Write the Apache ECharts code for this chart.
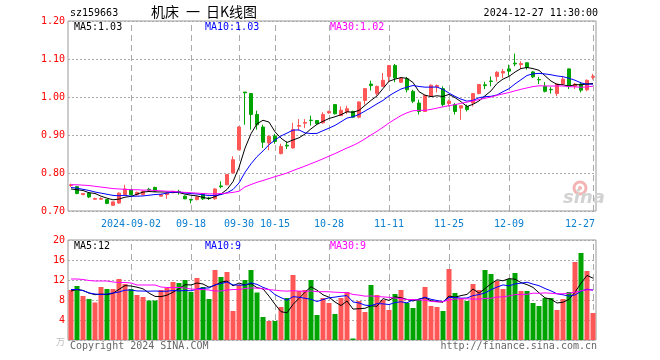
<!DOCTYPE html>
<html><head><meta charset="utf-8">
<script src="https://cdn.jsdelivr.net/npm/echarts@6/dist/echarts.min.js"></script>
<style>html,body{margin:0;padding:0;background:#fff}#c{width:660px;height:360px}</style>
</head><body><div id="c"></div>
<script>
// ---- data ----
const dates = [
'2024-08-19','2024-08-20','2024-08-21','2024-08-22','2024-08-23','2024-08-26','2024-08-27','2024-08-28','2024-08-29','2024-08-30',
'2024-09-02','2024-09-03','2024-09-04','2024-09-05','2024-09-06','2024-09-09','2024-09-10','2024-09-11','2024-09-12','2024-09-13',
'2024-09-18','2024-09-19','2024-09-20','2024-09-23','2024-09-24','2024-09-25','2024-09-26','2024-09-27','2024-09-30','2024-10-08',
'2024-10-09','2024-10-10','2024-10-11','2024-10-14','2024-10-15','2024-10-16','2024-10-17','2024-10-18','2024-10-21','2024-10-22',
'2024-10-23','2024-10-24','2024-10-25','2024-10-28','2024-10-29','2024-10-30','2024-10-31','2024-11-01','2024-11-04','2024-11-05',
'2024-11-06','2024-11-07','2024-11-08','2024-11-11','2024-11-12','2024-11-13','2024-11-14','2024-11-15','2024-11-18','2024-11-19',
'2024-11-20','2024-11-21','2024-11-22','2024-11-25','2024-11-26','2024-11-27','2024-11-28','2024-11-29','2024-12-02','2024-12-03',
'2024-12-04','2024-12-05','2024-12-06','2024-12-09','2024-12-10','2024-12-11','2024-12-12','2024-12-13','2024-12-16','2024-12-17',
'2024-12-18','2024-12-19','2024-12-20','2024-12-23','2024-12-24','2024-12-25','2024-12-26','2024-12-27'];
const opens = [
0.767,0.764,0.743,0.747,0.731,0.731,0.730,0.715,0.721,0.743,
0.756,0.743,0.743,0.757,0.762,0.739,0.743,0.748,0.751,0.739,
0.730,0.730,0.745,0.734,0.732,0.766,0.769,0.800,0.861,1.013,
1.009,0.954,0.921,0.879,0.897,0.851,0.873,0.866,0.923,0.931,
0.939,0.938,0.932,0.958,0.980,0.951,0.961,0.962,0.947,0.991,
1.034,1.009,1.028,1.054,1.083,1.039,1.048,1.015,0.984,0.962,
1.002,1.027,1.022,0.983,0.980,0.971,0.975,0.984,1.009,1.032,
1.042,1.054,1.063,1.074,1.089,1.085,1.090,1.066,1.046,1.028,
1.020,1.009,1.034,1.074,1.028,1.034,1.019,1.052];
const closes = [
0.769,0.746,0.746,0.737,0.733,0.733,0.720,0.724,0.747,0.758,
0.743,0.749,0.752,0.755,0.752,0.743,0.747,0.751,0.749,0.732,
0.729,0.737,0.732,0.733,0.758,0.764,0.796,0.835,0.921,1.011,
0.954,0.927,0.881,0.897,0.883,0.870,0.871,0.914,0.925,0.933,
0.938,0.930,0.954,0.962,0.956,0.965,0.969,0.947,0.987,1.022,
1.030,1.028,1.044,1.083,1.050,1.050,1.019,0.989,0.962,1.004,
1.031,1.030,0.980,0.989,0.962,0.977,0.967,1.009,1.033,1.030,
1.041,1.065,1.067,1.068,1.087,1.088,1.078,1.053,1.045,1.015,
1.019,1.034,1.047,1.028,1.034,1.018,1.044,1.054];
const lows = [
0.763,0.744,0.742,0.734,0.730,0.729,0.718,0.713,0.719,0.742,
0.741,0.741,0.741,0.752,0.750,0.738,0.732,0.747,0.743,0.731,
0.720,0.728,0.729,0.729,0.730,0.760,0.768,0.799,0.860,0.927,
0.914,0.914,0.866,0.860,0.877,0.849,0.863,0.864,0.912,0.918,
0.925,0.928,0.930,0.956,0.954,0.950,0.955,0.946,0.944,0.980,
1.017,1.004,1.027,1.039,1.039,1.037,1.012,0.984,0.954,0.961,
1.000,1.012,0.975,0.975,0.954,0.940,0.962,0.975,1.007,1.021,
1.028,1.041,1.050,1.056,1.081,1.074,1.072,1.050,1.034,1.012,
1.009,1.002,1.033,1.021,1.021,1.012,1.015,1.046];
const highs = [
0.772,0.766,0.747,0.749,0.735,0.736,0.731,0.725,0.749,0.769,
0.758,0.751,0.754,0.761,0.764,0.744,0.748,0.753,0.756,0.741,
0.732,0.739,0.747,0.737,0.760,0.778,0.797,0.844,0.923,1.013,
1.010,0.964,0.927,0.898,0.903,0.877,0.883,0.932,0.942,0.942,
0.951,0.939,0.960,0.964,0.981,0.975,0.977,0.964,0.988,1.023,
1.043,1.030,1.063,1.084,1.087,1.052,1.053,1.019,0.993,1.005,
1.033,1.033,1.028,0.993,0.984,0.978,0.980,1.010,1.034,1.040,
1.054,1.068,1.074,1.085,1.114,1.094,1.091,1.068,1.053,1.039,
1.026,1.035,1.054,1.075,1.037,1.039,1.046,1.061];
const volumes = [
10.0,10.8,8.8,8.2,7.5,10.6,10.2,10.2,12.2,11.2,
10.2,9.0,8.6,7.9,7.9,10.0,10.4,11.6,11.4,12.0,
9.6,12.4,10.6,8.2,14.0,12.6,13.6,5.8,11.0,12.0,
14.0,9.5,4.6,3.8,3.8,6.6,8.4,13.0,9.8,10.0,
12.0,5.0,8.4,7.4,5.2,8.4,9.6,0.3,7.8,5.6,
11.0,9.0,8.0,6.0,9.2,10.0,7.4,6.4,8.0,10.6,
6.8,6.6,5.8,14.2,9.4,8.4,7.8,11.2,10.0,14.0,
13.2,11.8,10.2,12.2,13.4,9.8,9.8,7.4,6.8,8.4,
8.4,6.0,8.2,9.6,15.6,17.4,13.8,5.4];
// moving-average values before the window is full
const ma5Lead = [0.758,0.756,0.754,0.748];
const ma10Lead = [0.762,0.760,0.757,0.754,0.750,0.747,0.744,0.741,0.740];
const ma30Lead = [0.769,0.769,0.768,0.767,0.765,0.763,0.761,0.759,0.758,0.757,
0.756,0.756,0.755,0.755,0.754,0.753,0.752,0.752,0.750,0.749,
0.748,0.747,0.746,0.745,0.745,0.746,0.747,0.749,0.752];
const vma5Lead = [9.8,10.1,9.9,9.4];
const vma10Lead = [10.1,10.1,9.9,9.4,9.2,9.1,9.2,9.4,9.6];
const vma30Lead = [12.2,12.2,12.1,11.9,11.8,11.8,11.8,11.6,11.5,11.5,
11.4,11.0,11.0,11.0,11.0,10.6,10.5,10.5,10.5,10.4,
10.2,10.1,10.1,10.0,9.8,9.8,10.0,10.1,10.1];
const tickDates = ['2024-09-02','2024-09-18','2024-09-30','2024-10-15','2024-10-28','2024-11-11','2024-11-25','2024-12-09','2024-12-27'];
const tickLabels = ['2024-09-02','09-18','09-30','10-15','10-28','11-11','11-25','12-09','12-27'];
const priceTicks = [0.70,0.80,0.90,1.00,1.10,1.20];
const volTicks = [0,4,8,12,16,20];
const titleCode = 'sz159663';
const titleParts = ['机床','一','日K线图'];
const titleTime = '2024-12-27 11:30:00';
const priceMaLabels = ['MA5:1.03','MA10:1.03','MA30:1.02'];
const volMaLabels = ['MA5:12','MA10:9','MA30:9'];

// ---- build ----
const UP='#ff5656', DOWN='#00a400';
const MONO='"DejaVu Sans Mono", "Liberation Mono", monospace';
function ma(vals,n,lead){return vals.map((v,i)=>{if(i<n-1)return lead[i];let s=0;for(let k=i-n+1;k<=i;k++)s+=vals[k];return +(s/n).toFixed(4);});}
const candle = dates.map((d,i)=>[opens[i],closes[i],lows[i],highs[i]]);
const volData = volumes.map((v,i)=>({value:v,itemStyle:{color:closes[i]>=opens[i]?UP:DOWN}}));
const tickIdx = tickDates.map(d=>dates.indexOf(d));
const labelOf = {}; tickDates.forEach((d,k)=>labelOf[d]=tickLabels[k]);
const vlines = tickDates.map(d=>({xAxis:d}));
const L=68, W=528;
const chart = echarts.init(document.getElementById('c'),null,{renderer:'canvas',width:660,height:360});
const axisCommon = {type:'category',data:dates,boundaryGap:true,axisLine:{show:false},axisTick:{show:false},splitLine:{show:false}};
const lineCommon = {type:'line',showSymbol:false,symbol:'none',smooth:false,animation:false,lineStyle:{width:1}};
const CJK='"Noto Sans CJK SC"';
chart.setOption({
  animation:false,
  backgroundColor:'#fff',
  grid:[
    {left:L,width:W,top:21,height:190,show:true,borderColor:'#999',borderWidth:1,backgroundColor:'transparent'},
    {left:L,width:W,top:240,height:100,show:true,borderColor:'#999',borderWidth:1,backgroundColor:'transparent'}
  ],
  xAxis:[
    Object.assign({},axisCommon,{gridIndex:0,axisLabel:{show:true,interval:(i)=>tickIdx.includes(i),margin:8,color:'#0b7fd0',fontFamily:MONO,fontSize:10,
      formatter:(v)=>v==='2024-12-27'?'{r|'+labelOf[v]+'}':labelOf[v],rich:{r:{padding:[0,26,0,0],color:'#0b7fd0',fontFamily:MONO,fontSize:10}}}}),
    Object.assign({},axisCommon,{gridIndex:1,axisLabel:{show:false}})
  ],
  yAxis:[
    {type:'value',gridIndex:0,min:priceTicks[0],max:priceTicks[priceTicks.length-1],interval:0.1,
      axisLine:{show:false},axisTick:{show:false},
      axisLabel:{color:'#ff0000',fontFamily:MONO,fontSize:10,margin:3,formatter:(v)=>v.toFixed(2)},
      splitLine:{show:true,lineStyle:{color:'#aaa',type:[2,2],width:1}}},
    {type:'value',gridIndex:1,min:volTicks[0],max:volTicks[volTicks.length-1],interval:4,
      axisLine:{show:false},axisTick:{show:false},
      axisLabel:{color:'#ff0000',fontFamily:MONO,fontSize:10,margin:3,formatter:(v)=>v===0?'':String(v)},
      splitLine:{show:true,lineStyle:{color:'#aaa',type:[2,2],width:1}}}
  ],
  series:[
    {type:'candlestick',xAxisIndex:0,yAxisIndex:0,data:candle,barWidth:4,z:3,
      itemStyle:{color:UP,color0:DOWN,borderColor:UP,borderColor0:DOWN,borderWidth:1},
      markLine:{silent:true,z:1,symbol:['none','none'],label:{show:false},animation:false,
        lineStyle:{color:'#aaa',type:[6,4],width:1},data:vlines}},
    Object.assign({},lineCommon,{xAxisIndex:0,yAxisIndex:0,data:ma(closes,5,ma5Lead),lineStyle:{width:1,color:'#000'},z:4}),
    Object.assign({},lineCommon,{xAxisIndex:0,yAxisIndex:0,data:ma(closes,10,ma10Lead),lineStyle:{width:1,color:'#0000ff'},z:4}),
    Object.assign({},lineCommon,{xAxisIndex:0,yAxisIndex:0,data:ma(closes,30,ma30Lead),lineStyle:{width:1,color:'#ff00ff'},z:4}),
    {type:'bar',xAxisIndex:1,yAxisIndex:1,data:volData,barWidth:5,z:3,
      markLine:{silent:true,z:1,symbol:['none','none'],label:{show:false},animation:false,
        lineStyle:{color:'#aaa',type:[6,4],width:1},data:vlines}},
    Object.assign({},lineCommon,{xAxisIndex:1,yAxisIndex:1,data:ma(volumes,5,vma5Lead),lineStyle:{width:1,color:'#000'},z:4}),
    Object.assign({},lineCommon,{xAxisIndex:1,yAxisIndex:1,data:ma(volumes,10,vma10Lead),lineStyle:{width:1,color:'#0000ff'},z:4}),
    Object.assign({},lineCommon,{xAxisIndex:1,yAxisIndex:1,data:ma(volumes,30,vma30Lead),lineStyle:{width:1,color:'#ff00ff'},z:4})
  ],
  graphic:[
    {type:'text',left:70,top:8,style:{text:titleCode,fill:'#000',font:'10px '+MONO}},
    {type:'text',left:151,top:5,style:{text:titleParts[0],fill:'#000',font:'14px '+CJK}},
    {type:'text',left:186,top:5,style:{text:titleParts[1],fill:'#000',font:'14px '+CJK}},
    {type:'text',left:206,top:5,style:{text:titleParts[2],fill:'#000',font:'14px '+CJK}},
    {type:'text',right:62,top:8,style:{text:titleTime,fill:'#000',font:'10px '+MONO}},
    {type:'text',left:74,top:22,z:10,style:{text:priceMaLabels[0],fill:'#000',font:'10px '+MONO}},
    {type:'text',left:205,top:22,z:10,style:{text:priceMaLabels[1],fill:'#0000ff',font:'10px '+MONO}},
    {type:'text',left:330,top:22,z:10,style:{text:priceMaLabels[2],fill:'#ff00ff',font:'10px '+MONO}},
    {type:'text',left:74,top:241,z:10,style:{text:volMaLabels[0],fill:'#000',font:'10px '+MONO}},
    {type:'text',left:205,top:241,z:10,style:{text:volMaLabels[1],fill:'#0000ff',font:'10px '+MONO}},
    {type:'text',left:330,top:241,z:10,style:{text:volMaLabels[2],fill:'#ff00ff',font:'10px '+MONO}},
    {type:'text',left:56,top:337,style:{text:'万',fill:'#bbb',font:'9px '+CJK}},
    {type:'text',left:70,top:341,style:{text:'Copyright 2024 SINA.COM',fill:'#666',font:'10px '+MONO}},
    {type:'text',right:63,top:341,style:{text:'http://finance.sina.com.cn',fill:'#666',font:'10px '+MONO}},
    {type:'circle',shape:{cx:580,cy:188,r:6},style:{fill:'none',stroke:'#f4b4b4',lineWidth:3},z:0},
    {type:'circle',shape:{cx:580,cy:188,r:2},style:{fill:'#f4b4b4'},z:0},
    {type:'text',left:563,top:189,z:0,style:{text:'sina',fill:'#d2d2d2',font:'italic bold 18px "DejaVu Sans"'}}
  ]
});
</script></body></html>
